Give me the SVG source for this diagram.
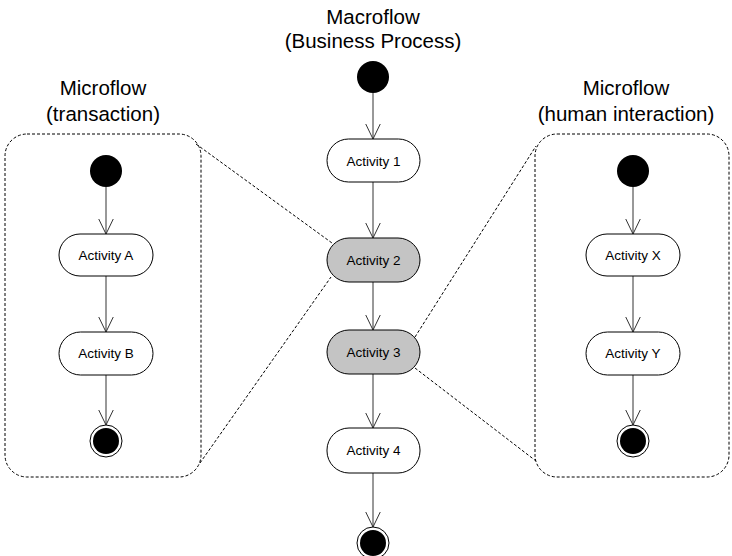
<svg xmlns="http://www.w3.org/2000/svg" width="732" height="556" viewBox="0 0 732 556">
  <defs>
    <style>
      .title { font-family: "Liberation Sans", Arial, sans-serif; font-size: 20.5px; fill: #000; text-anchor: middle; }
      .label { font-family: "Liberation Sans", Arial, sans-serif; font-size: 13.5px; fill: #000; text-anchor: middle; dominant-baseline: central; }
      .act { fill: #fff; stroke: #000; stroke-width: 1; }
      .act.hl { fill: #c4c4c4; }
      .start { fill: #000; }
      .endo { fill: #fff; stroke: #000; stroke-width: 1; }
      .flow { stroke: #333; stroke-width: 1; fill: none; marker-end: url(#vee); }
      .frame { fill: none; stroke: #000; stroke-width: 1; stroke-dasharray: 3 2; }
      .zoom { stroke: #000; stroke-width: 1; stroke-dasharray: 3 2; fill: none; }
    </style>
    <!-- open V arrowhead, drawn along +x -->
    <marker id="vee" viewBox="0 0 16 16" refX="15.5" refY="8" markerWidth="16" markerHeight="16" markerUnits="userSpaceOnUse" orient="auto">
      <path d="M0 0.5 L15.5 8 L0 15.5" fill="none" stroke="#333" stroke-width="1"/>
    </marker>
  </defs>

  <!-- headings -->
  <text class="title" x="373" y="24">Macroflow</text>
  <text class="title" x="373" y="48">(Business Process)</text>
  <text class="title" x="103" y="95">Microflow</text>
  <text class="title" x="103" y="121">(transaction)</text>
  <text class="title" x="626" y="95">Microflow</text>
  <text class="title" x="626" y="121">(human interaction)</text>

  <!-- microflow frames -->
  <g id="frame-transaction">
    <rect class="frame" x="5" y="134" width="196" height="343" rx="22"/>
  </g>
  <g id="frame-human">
    <rect class="frame" x="535" y="134" width="194" height="343" rx="22"/>
  </g>

  <!-- connectors -->
  <g id="connectors">
    <line class="flow" x1="373" y1="93" x2="373" y2="139"/>
    <line class="flow" x1="373" y1="182" x2="373" y2="238"/>
    <line class="flow" x1="373" y1="282" x2="373" y2="330"/>
    <line class="flow" x1="373" y1="374" x2="373" y2="428"/>
    <line class="flow" x1="373" y1="473" x2="373" y2="527"/>

    <line class="flow" x1="106" y1="187" x2="106" y2="234"/>
    <line class="flow" x1="106" y1="276" x2="106" y2="332"/>
    <line class="flow" x1="106" y1="375" x2="106" y2="425"/>

    <line class="flow" x1="633" y1="187" x2="633" y2="234"/>
    <line class="flow" x1="633" y1="276" x2="633" y2="332"/>
    <line class="flow" x1="633" y1="375" x2="633" y2="425"/>

    <!-- expansion lines -->
    <line class="zoom" x1="196" y1="144" x2="332" y2="243"/>
    <line class="zoom" x1="200" y1="463" x2="331" y2="277"/>
    <line class="zoom" x1="415" y1="337" x2="536" y2="146"/>
    <line class="zoom" x1="415" y1="368" x2="536" y2="461"/>
  </g>

  <!-- macroflow nodes -->
  <g id="macro-start"><circle class="start" cx="373" cy="77" r="16"/></g>
  <g id="activity-1">
    <rect class="act" x="327" y="139" width="93" height="43" rx="21.5"/>
    <text class="label" x="373.5" y="161">Activity 1</text>
  </g>
  <g id="activity-2">
    <rect class="act hl" x="327" y="238" width="93" height="44" rx="22"/>
    <text class="label" x="373.5" y="260">Activity 2</text>
  </g>
  <g id="activity-3">
    <rect class="act hl" x="327" y="330" width="93" height="44" rx="22"/>
    <text class="label" x="373.5" y="352">Activity 3</text>
  </g>
  <g id="activity-4">
    <rect class="act" x="327" y="428" width="93" height="45" rx="22"/>
    <text class="label" x="373.5" y="450">Activity 4</text>
  </g>
  <g id="macro-end">
    <circle class="endo" cx="373" cy="543" r="16"/>
    <circle class="start" cx="373" cy="543" r="13"/>
  </g>

  <!-- transaction microflow nodes -->
  <g id="tx-start"><circle class="start" cx="106" cy="171" r="16"/></g>
  <g id="activity-a">
    <rect class="act" x="59" y="234" width="94" height="42" rx="21"/>
    <text class="label" x="106" y="255">Activity A</text>
  </g>
  <g id="activity-b">
    <rect class="act" x="59" y="332" width="94" height="43" rx="21.5"/>
    <text class="label" x="106" y="353">Activity B</text>
  </g>
  <g id="tx-end">
    <circle class="endo" cx="106" cy="441" r="16"/>
    <circle class="start" cx="106" cy="441" r="13"/>
  </g>

  <!-- human interaction microflow nodes -->
  <g id="hi-start"><circle class="start" cx="633" cy="171" r="16"/></g>
  <g id="activity-x">
    <rect class="act" x="586" y="234" width="94" height="42" rx="21"/>
    <text class="label" x="633" y="255">Activity X</text>
  </g>
  <g id="activity-y">
    <rect class="act" x="586" y="332" width="94" height="43" rx="21.5"/>
    <text class="label" x="633" y="353">Activity Y</text>
  </g>
  <g id="hi-end">
    <circle class="endo" cx="633" cy="441" r="16"/>
    <circle class="start" cx="633" cy="441" r="13"/>
  </g>
</svg>
